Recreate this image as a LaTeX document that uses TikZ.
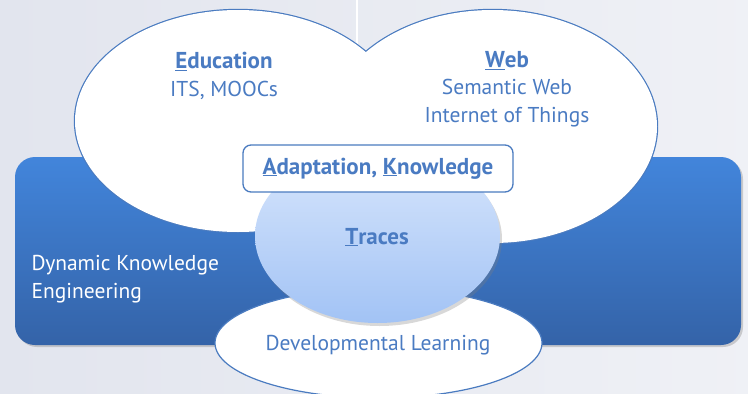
\documentclass[tikz,border=0pt]{standalone}
\usepackage{fontspec}
\setmainfont{PT Sans}
\usetikzlibrary{shadows}

\definecolor{bgcol}{HTML}{E2E5EE}
\definecolor{linecol}{HTML}{4A7BC0}
\definecolor{txtcol}{HTML}{4A7BC2}
\definecolor{bandtop}{HTML}{4285DB}
\definecolor{bandbot}{HTML}{3463A8}
\definecolor{tracetop}{HTML}{D8E6FC}
\definecolor{tracebot}{HTML}{A2C3F5}

\newcommand{\headfont}{\fontsize{23}{27.5}\selectfont\bfseries}
\tikzset{
  topic/.style={text=txtcol, font=\fontsize{21.5}{27.5}\selectfont, align=center},
  band label/.style={text=white, font=\fontsize{21.5}{27.5}\selectfont, align=left, anchor=west},
  keybox/.style={draw=linecol, line width=1.3pt, fill=white, rounded corners=8pt,
    minimum width=270pt, minimum height=47pt},
}

\begin{document}
\begin{tikzpicture}[x=1pt, y=-1pt]
\useasboundingbox (0,0) rectangle (748,394);

% background and divider
\fill[left color=bgcol, right color=bgcol!55!white] (0,0) rectangle (748,394);
\draw[white, line width=1.6pt] (357,0) -- (357,60);

% blue band
\path[drop shadow={opacity=0.35, shadow xshift=2pt, shadow yshift=-2pt},
  top color=bandtop, bottom color=bandbot, rounded corners=20pt]
  (15,157) rectangle (741,345);

% the two upper bubbles (outline only on the outside)
\draw[linecol, line width=2.4pt] (238,121) ellipse (163 and 111);
\draw[linecol, line width=2.4pt] (492.5,126.5) ellipse (164.5 and 116.5);
\fill[white] (238,121) ellipse (163 and 111);
\fill[white] (492.5,126.5) ellipse (164.5 and 116.5);

% lower bubble
\draw[linecol, line width=1.2pt, fill=white] (378.5,343) ellipse (163.5 and 55);

% traces
\path[drop shadow={opacity=0.3, shadow xshift=2pt, shadow yshift=-3pt},
  top color=tracetop, bottom color=tracebot] (377.5,236) ellipse (122.5 and 87);

% labels
\node[topic] (edu) at (224,76) {{\headfont\underline{E}ducation}\\ITS, MOOCs};
\node[topic] (web) at (507,89) {{\headfont\underline{W}eb}\\Semantic Web\\Internet of Things};
\node[keybox, topic] (adapt) at (378,168.5) {\headfont\underline{A}daptation, \underline{K}nowledge};
\node[topic] (traces) at (377,237) {\headfont\underline{T}races};
\node[band label] (dke) at (28,279) {Dynamic Knowledge\\Engineering};
\node[topic] (dev) at (378,345) {Developmental Learning};

\end{tikzpicture}
\end{document}
